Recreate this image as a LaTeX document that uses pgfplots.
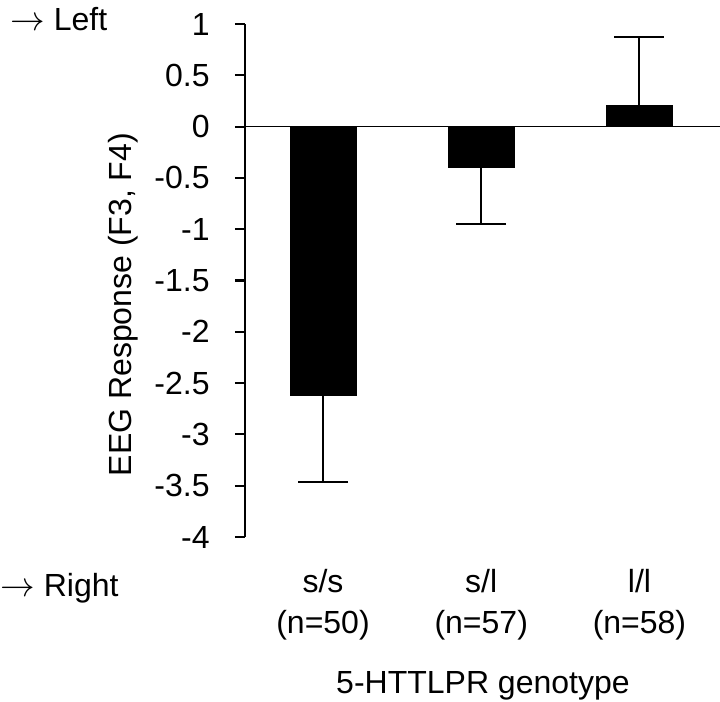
\documentclass[border=0pt]{standalone}
\usepackage{fontspec}
\setmainfont{Liberation Sans}
\usepackage{pgfplots}
\pgfplotsset{compat=1.18}
\begin{document}
\begin{tikzpicture}[font=\fontsize{16}{20.3}\selectfont]
\begin{axis}[
  scale only axis, width=237.5pt, height=256.5pt,
  xmin=-0.493, xmax=2.509, ymin=-4, ymax=1,
  axis lines*=left,
  x axis line style={draw=none},
  y axis line style={line width=1.1pt, black},
  xtick={0,1,2},
  xticklabels={{s/s\\(n=50)},{s/l\\(n=57)},{l/l\\(n=58)}},
  xtick style={draw=none},
  xticklabel style={align=center, anchor=north, inner sep=0pt, yshift=-11pt},
  ytick={-4,-3.5,-3,-2.5,-2,-1.5,-1,-0.5,0,0.5,1},
  yticklabels={-4,-3.5,-3,-2.5,-2,-1.5,-1,-0.5,0,0.5,1},
  yticklabel style={anchor=east, inner sep=0pt, xshift=-12.5pt},
  ytick style={line width=1.1pt, black},
  tick align=outside, major tick length=5pt,
  ylabel={EEG Response (F3, F4)},
  ylabel style={at={(axis description cs:-0.239,0.453)}, anchor=base},
  xlabel={5-HTTLPR genotype},
  xlabel style={at={(axis description cs:0.501,-0.306)}, anchor=base},
  clip=false,
]
\addplot[ybar, bar width=33pt, bar shift=0pt, fill=black, draw=black,
  error bars/.cd, y dir=minus, y explicit,
  error bar style={line width=1pt, black},
  error mark options={rotate=90, mark size=12.5pt, line width=1pt, black}]
  coordinates {(0,-2.62) +- (0,0.84) (1,-0.40) +- (0,0.545)};
\addplot[ybar, bar width=33pt, bar shift=0pt, fill=black, draw=black,
  error bars/.cd, y dir=plus, y explicit,
  error bar style={line width=1pt, black},
  error mark options={rotate=90, mark size=12.5pt, line width=1pt, black}]
  coordinates {(2,0.205) +- (0,0.672)};
\addplot[black, line width=0.65pt] coordinates {(-0.493,0) (2.509,0)};
\coordinate (SW) at (rel axis cs:0,0);
\end{axis}
\node[anchor=base west, inner sep=0pt] at ([shift={(-117.5pt,253pt)}]SW) {$\rightarrow$ Left};
\node[anchor=base west, inner sep=0pt] at ([shift={(-122.5pt,-30pt)}]SW) {$\rightarrow$ Right};
\pgfresetboundingbox
\path[use as bounding box] ([shift={(-122.5pt,-82.5pt)}]SW) rectangle ([shift={(237.5pt,268.5pt)}]SW);
\end{tikzpicture}
\end{document}
